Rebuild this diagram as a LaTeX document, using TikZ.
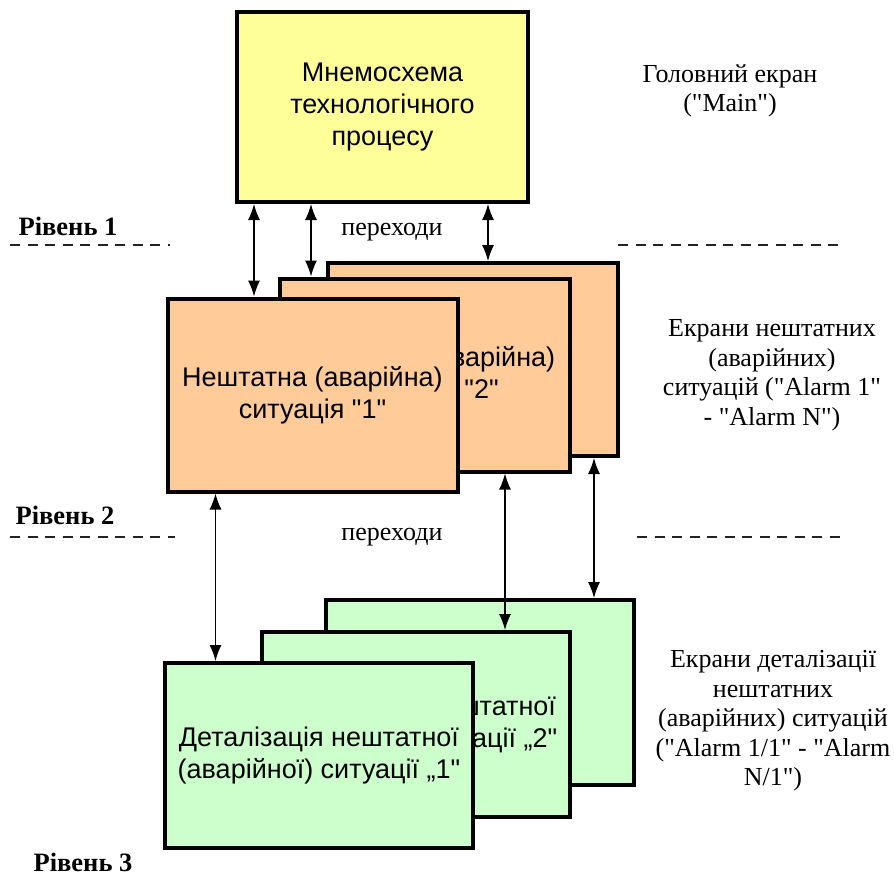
\documentclass[tikz,border=0pt]{standalone}
\usepackage{fontspec}
\setmainfont{Liberation Serif}[Ligatures=TeXOff]
\newfontfamily\boxfont{Liberation Sans}
\usetikzlibrary{arrows.meta, positioning}
\definecolor{c1}{HTML}{000000}
\definecolor{mainfill}{HTML}{FFFF99}
\definecolor{alarmfill}{HTML}{FFCC99}
\definecolor{detailfill}{HTML}{CCFFCC}
\definecolor{dashcolor}{HTML}{222222}

\begin{document}
\begin{tikzpicture}[
    x=1pt, y=-1pt,
    screen/.style={draw=c1, line width=4pt, inner sep=0pt, align=center,
        font=\boxfont\fontsize{27}{32}\selectfont},
    mainbox/.style={screen, fill=mainfill, minimum width=291pt, minimum height=190pt},
    alarmbox/.style={screen, fill=alarmfill, minimum width=290pt, minimum height=193pt},
    detailbox/.style={screen, fill=detailfill, minimum width=308pt, minimum height=185pt},
    link/.style={c1, line width=1.3pt,
        {Latex[length=16pt, width=12pt]}-{Latex[length=16pt, width=12pt]}},
    level/.style={dashcolor, line width=1.2pt, dash pattern=on 10pt off 7.5pt},
    lvl/.style={font=\fontsize{26.5}{30}\selectfont\bfseries},
    note/.style={font=\fontsize{26}{29.5}\selectfont, align=center},
]
\useasboundingbox (0,0) rectangle (894,887);

% level 1: the main screen
\node[mainbox] (main) at (382.5, 107) {Мнемосхема\\технологічного\\процесу};

% level 2: alarm screens, back to front
\node[alarmbox] (al3) at (473, 359.5) {};
\node[alarmbox] (al2) at (425, 375) {Нештатна (аварійна)\\ситуація "2"};
\node[alarmbox] (al1) at (312.5, 395) {Нештатна (аварійна)\\ситуація "1"};

% level 3: detail screens, back to front
\node[detailbox] (dt3) at (479.5, 692.5) {};
\node[detailbox] (dt2) at (416, 724.5) {Деталізація нештатної\\(аварійної) ситуації „2"};
\node[detailbox] (dt1) at (319, 755.5) {Деталізація нештатної\\(аварійної) ситуації „1"};

% transitions
\draw[link] ([xshift=19pt]main.south west) -- ([xshift=19pt]main.south west |- al1.north);
\draw[link] ([xshift=76pt]main.south west) -- ([xshift=76pt]main.south west |- al2.north);
\draw[link] ([xshift=253pt]main.south west) -- ([xshift=253pt]main.south west |- al3.north);
\draw[link] ([xshift=50pt]al1.south west) -- ([xshift=50pt]al1.south west |- dt1.north);
\draw[link] ([xshift=227pt]al2.south west) -- ([xshift=227pt]al2.south west |- dt2.north);
\draw[link] ([xshift=268pt]al3.south west) -- ([xshift=268pt]al3.south west |- dt3.north);

\node[note] (tr1) at (392, 232) {переходи};
\node[note] (tr2) at (392, 537) {переходи};

% level borders
\draw[level] (10, 245) -- (170, 245);
\draw[level] (618, 245) -- (845, 245);
\draw[level] (10, 537) -- (175, 537);
\draw[level] (637, 537) -- (845, 537);

\node[lvl] (lv1) at (68, 226) {Рівень 1};
\node[lvl] (lv2) at (65, 515) {Рівень 2};
\node[lvl] (lv3) at (83, 862) {Рівень 3};

% what each level holds
\node[note] (n1) at (730, 91) {Головний екран\\("Main")};
\node[note] (n2) at (772, 375) {Екрани нештатних\\(аварійних)\\ситуацій ("Alarm 1"\\- "Alarm N")};
\node[note] (n3) at (773, 721) {Екрани деталізації\\нештатних\\(аварійних) ситуацій\\("Alarm 1/1" - "Alarm\\N/1")};
\end{tikzpicture}
\end{document}
